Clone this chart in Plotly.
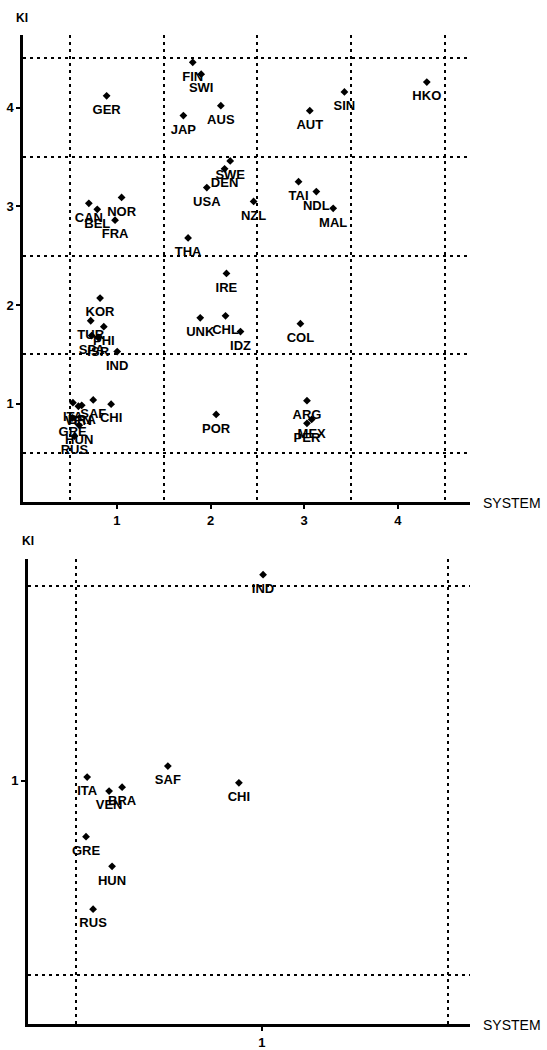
import plotly.graph_objects as go

# ---- data ----
countries = ["FIN", "SWI", "GER", "JAP", "AUS", "SIN", "HKO", "AUT", "SWE", "DEN",
             "USA", "NZL", "CAN", "BEL", "NOR", "FRA", "THA", "TAI", "NDL", "MAL",
             "IRE", "KOR", "UNK", "CHL", "IDZ", "TUR", "PHI", "SPA", "ISR", "IND",
             "COL", "ITA", "SAF", "CHI", "VEN", "BRA", "GRE", "HUN", "RUS", "POR",
             "ARG", "MEX", "PER"]
system = [1.81, 1.90, 0.89, 1.71, 2.11, 3.43, 4.31, 3.06, 2.21, 2.15,
          1.96, 2.46, 0.70, 0.79, 1.05, 0.98, 1.76, 2.94, 3.13, 3.31,
          2.17, 0.82, 1.89, 2.16, 2.32, 0.72, 0.86, 0.73, 0.80, 1.003,
          2.96, 0.530, 0.747, 0.938, 0.589, 0.624, 0.527, 0.597, 0.546, 2.06,
          3.03, 3.08, 3.03]
ki = [4.46, 4.34, 4.12, 3.92, 4.02, 4.16, 4.26, 3.97, 3.46, 3.38,
      3.19, 3.05, 3.03, 2.97, 3.09, 2.86, 2.68, 3.25, 3.15, 2.98,
      2.32, 2.07, 1.87, 1.89, 1.73, 1.84, 1.78, 1.69, 1.67, 1.528,
      1.81, 1.009, 1.037, 0.994, 0.973, 0.983, 0.856, 0.780, 0.670, 0.89,
      1.03, 0.84, 0.80]

top_ticks = [1, 2, 3, 4]
grid_vals = [0.5, 1.5, 2.5, 3.5, 4.5]
bottom_ticks = [1]

FONT = "Liberation Sans"
label_font = dict(family=FONT, size=13, color="black", weight="bold")

fig = go.Figure()
for xa, ya in (("x", "y"), ("x2", "y2")):
    # visible diamond markers
    fig.add_trace(go.Scatter(
        x=system, y=ki, mode="markers",
        marker=dict(symbol="diamond", size=6, color="black"),
        xaxis=xa, yaxis=ya, cliponaxis=True, showlegend=False,
        text=countries, hoverinfo="text"))
    # labels, pushed further below the point via a larger transparent marker
    fig.add_trace(go.Scatter(
        x=system, y=ki, text=countries, mode="markers+text",
        textposition="bottom center", textfont=label_font,
        marker=dict(symbol="circle", size=12, color="rgba(0,0,0,0)"),
        xaxis=xa, yaxis=ya, cliponaxis=True, showlegend=False,
        hoverinfo="skip"))

def ax(domain, rng, ticks, anchor):
    return dict(domain=domain, range=rng, anchor=anchor,
                tickvals=ticks, ticktext=[str(t) for t in ticks],
                showgrid=False, zeroline=False,
                showline=True, linecolor="black", linewidth=3,
                ticks="outside", ticklen=4, tickwidth=2, tickcolor="black",
                tickfont=dict(family=FONT, size=13, color="black", weight="bold"),
                minor=dict(tickvals=grid_vals, showgrid=True, gridcolor="black",
                           griddash="3px,4px", gridwidth=1.5, ticks=""),
                fixedrange=True)

fig.update_layout(
    width=547, height=1050,
    margin=dict(l=0, r=0, t=0, b=0),
    paper_bgcolor="white", plot_bgcolor="white",
    xaxis=ax([0.0426, 0.859], [0, 4.77], top_ticks, "y"),
    yaxis=ax([0.518, 0.9667], [0, 4.74], top_ticks, "x"),
    xaxis2=ax([0.0512, 0.859], [0.371, 1.559], bottom_ticks, "y2"),
    yaxis2=ax([0.0171, 0.4638], [0.375, 1.569], bottom_ticks, "x2"),
)

ann_font = dict(family=FONT, size=14, color="black")
ki_font = dict(family=FONT, size=12, color="black", weight="bold")
for (px, py, txt, f) in ((22, 18, "KI", ki_font), (28, 545, "KI", ki_font),
                         (512, 507, "SYSTEM", ann_font), (512, 1033, "SYSTEM", ann_font)):
    fig.add_annotation(x=px / 547, y=1 - py / 1050, xref="paper", yref="paper",
                       xanchor="center", yanchor="middle",
                       text=txt, showarrow=False, font=f)

fig.write_html("out.html")
